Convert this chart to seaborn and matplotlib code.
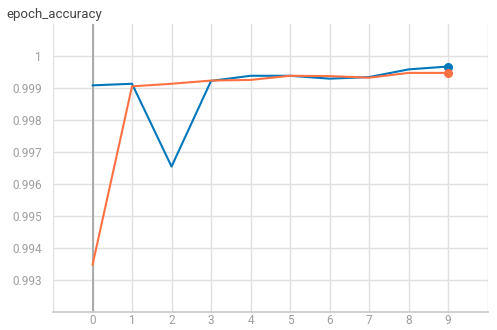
import matplotlib
matplotlib.use("Agg")
import matplotlib.pyplot as plt
import seaborn as sns
import pandas as pd

epochs = [0, 1, 2, 3, 4, 5, 6, 7, 8, 9]
blue_acc = [0.99908, 0.99913, 0.99654, 0.99922, 0.99938, 0.99938, 0.99929, 0.99934, 0.99958, 0.99967]
orange_acc = [0.99346, 0.99905, 0.99913, 0.99923, 0.99925, 0.99938, 0.99937, 0.99932, 0.99947, 0.99947]
y_ticks = [0.993, 0.994, 0.995, 0.996, 0.997, 0.998, 0.999, 1.0]
y_tick_labels = ["0.993", "0.994", "0.995", "0.996", "0.997", "0.998", "0.999", "1"]
title = "epoch_accuracy"

df = pd.DataFrame({
    "epoch": epochs + epochs,
    "acc": blue_acc + orange_acc,
    "run": ["blue"] * len(epochs) + ["orange"] * len(epochs),
})
palette = {"blue": "#0077bb", "orange": "#ff7043"}

sns.set_style("white")
plt.rcParams["font.family"] = ["Roboto", "DejaVu Sans"]

fig = plt.figure(figsize=(4.97, 3.30), dpi=100)
ax = fig.add_axes([0.1066, 0.0555, 0.8747, 0.8718])

sns.lineplot(data=df, x="epoch", y="acc", hue="run", palette=palette,
             linewidth=1.5, ax=ax, legend=False, zorder=3)
for run, vals in [("blue", blue_acc), ("orange", orange_acc)]:
    ax.scatter([epochs[-1]], [vals[-1]], s=30, color=palette[run], zorder=4)

ax.set_xlim(-1, 10)
ax.set_ylim(0.992, 1.001)
ax.set_xticks(range(-1, 11))
ax.set_xticklabels([""] + [str(e) for e in epochs] + [""])
ax.set_yticks(y_ticks)
ax.set_yticklabels(y_tick_labels)
ax.set_xlabel("")
ax.set_ylabel("")

ax.grid(True, color="#e0e0e0", linewidth=1)
ax.set_axisbelow(True)
ax.axvline(0, color="#9e9e9e", linewidth=1.2, zorder=2)

for s in ["top", "right", "left"]:
    ax.spines[s].set_visible(False)
ax.spines["bottom"].set_color("#c8c8c8")
ax.spines["bottom"].set_linewidth(1.2)

ax.tick_params(axis="y", labelsize=8.5, colors="#9e9e9e", length=0, pad=8)
ax.tick_params(axis="x", labelsize=8.5, colors="#9e9e9e", length=0, pad=2)

fig.text(0.012, 0.955, title, fontsize=9.5, color="#424242", ha="left", va="center")

fig.savefig("out.png", dpi=100, facecolor="white")
